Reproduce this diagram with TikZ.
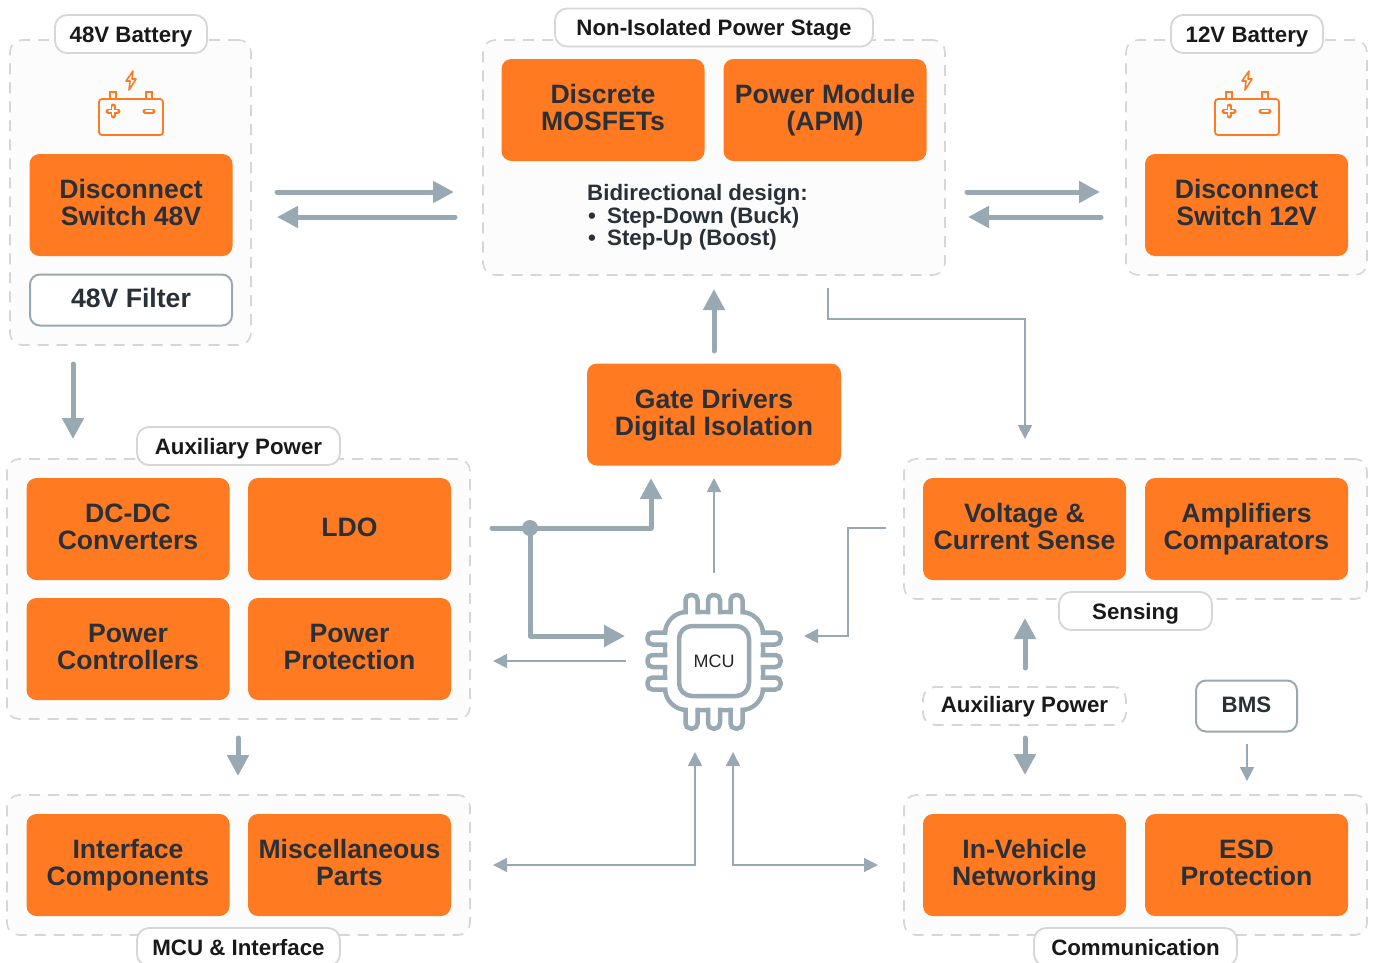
\documentclass[tikz,border=0pt]{standalone}
\usepackage{fontspec}
\setmainfont{Liberation Sans}
\usetikzlibrary{arrows.meta}
\definecolor{blockorange}{HTML}{FF7A20}
\definecolor{arrowgray}{HTML}{98A9B4}
\definecolor{dashgray}{HTML}{D6D6D6}
\definecolor{panelgray}{HTML}{FCFCFC}
\definecolor{darktext}{HTML}{2A3038}
\newcommand{\blockstrut}{\vrule height 20.4pt depth 6pt width 0pt}
\newcommand{\tagstrut}{\vrule height 18pt depth 1.4pt width 0pt}
\newcommand{\lowstrut}{\vrule height 17pt depth 3.5pt width 0pt}
\tikzstyle{block}=[rectangle,rounded corners=10pt,fill=blockorange,text=darktext,minimum width=203pt,minimum height=102pt,inner sep=0pt,align=center,font=\fontsize{26.6}{27}\selectfont\bfseries]
\tikzstyle{whiteblock}=[block,fill=white,draw=arrowgray,line width=2pt]
\tikzstyle{group}=[rectangle,rounded corners=12pt,draw=dashgray,fill=panelgray,line width=1.6pt,dash pattern=on 11pt off 8pt,inner sep=0pt]
\tikzstyle{tag}=[rectangle,rounded corners=12pt,draw=dashgray,fill=white,line width=1.8pt,inner sep=0pt,minimum height=38pt,font=\fontsize{22.3}{23}\selectfont\bfseries,text=black!90]
\tikzstyle{thickarrow}=[draw=arrowgray,line width=5pt,line cap=round,line join=round,-{Triangle[length=21pt,width=21pt]}]
\tikzstyle{thinarrow}=[draw=arrowgray,line width=1.8pt,-{Triangle[length=14pt,width=14pt]}]
\tikzstyle{bothways}=[thinarrow,{Triangle[length=14pt,width=14pt]}-{Triangle[length=14pt,width=14pt]}]
\tikzstyle{chipline}=[draw=arrowgray,line width=4.5pt]
\tikzstyle{junction}=[circle,fill=arrowgray,minimum size=16pt,inner sep=0pt]
\tikzset{batteryicon/.pic={
    \draw[blockorange,line width=1.8pt,rounded corners=3pt] (-32,-19) rectangle (32,17);
    \draw[blockorange,line width=1.8pt] (-21,-26) rectangle (-15,-19);
    \draw[blockorange,line width=1.8pt] (15,-26) rectangle (21,-19);
    \draw[blockorange,line width=5pt,line cap=round] (-23,-7) -- (-13,-7) (-18,-12) -- (-18,-2) (14,-7) -- (22,-7);
    \draw[white,line width=1.6pt,line cap=round] (-22,-7) -- (-14,-7) (-18,-11) -- (-18,-3) (15,-7) -- (21,-7);
    \draw[blockorange,line width=1.6pt,line join=round] (2,-47) -- (-5,-37) -- (-1,-37) -- (-2,-28) -- (5,-39) -- (1,-39) -- cycle;
}}

\begin{document}
\begin{tikzpicture}[x=1pt,y=-1pt]
    \useasboundingbox (0,0) rectangle (1373,962);

    % First we draw the dashed groups
    \foreach \pos/\name/\boxw/\boxh in {{(130.5,192.5)/batteryA/241/305}, {(714,157.5)/powerstage/462/235}, {(1246.5,157.5)/batteryB/241/235}, {(238.5,589)/auxgroup/463/260}, {(238.5,865)/mcugroup/463/140}, {(1135.5,529)/sensegroup/463/140}, {(1135.5,865)/commgroup/463/140}}
        \node[group,minimum width=\boxw pt,minimum height=\boxh pt] (\name) at \pos {};

    % Tags on the groups
    \foreach \pos/\name/\boxw/\txt in {{(131,34)/tagA/152/48V Battery}, {(714,27.5)/tagstage/318/Non-Isolated Power Stage}, {(1247,34)/tagB/152/12V Battery}, {(238.5,446)/tagaux/203/Auxiliary Power}, {(1135.5,611)/tagsense/153/Sensing}, {(238.5,947)/tagmcu/203/MCU \& Interface}, {(1135.5,947)/tagcomm/203/Communication}}
        \node[tag,minimum width=\boxw pt] (\name) at \pos {\tagstrut\smash{\txt}};
    \node[tag,minimum width=203pt,dash pattern=on 11pt off 8pt] (tagaux2) at (1024.5,706) {\lowstrut\smash{Auxiliary Power}};

    % Orange blocks
    \foreach \pos/\name/\txt in {{(131,205)/switchA/{Disconnect\\Switch 48V}}, {(603,110)/mosfets/{Discrete\\MOSFETs}}, {(825,110)/module/{Power Module\\(APM)}}, {(1246.5,205)/switchB/{Disconnect\\Switch 12V}}, {(128,529)/dcdc/{DC-DC\\Converters}}, {(349.5,529)/ldo/LDO}, {(128,649)/controllers/{Power\\Controllers}}, {(349.5,649)/protection/{Power\\Protection}}, {(128,865)/interface/{Interface\\Components}}, {(349.5,865)/misc/{Miscellaneous\\Parts}}, {(1024.5,529)/sense/{Voltage \&\\Current Sense}}, {(1246.5,529)/amps/{Amplifiers\\Comparators}}, {(1024.5,865)/network/{In-Vehicle\\Networking}}, {(1246.5,865)/esd/{ESD\\Protection}}}
        \node[block] (\name) at \pos {\blockstrut\txt\blockstrut};
    \node[block,minimum width=254pt] (gate) at (714,414.5) {\blockstrut Gate Drivers\\Digital Isolation\blockstrut};
    \node[whiteblock,minimum width=202pt,minimum height=51pt] (filter) at (131,300) {\blockstrut 48V Filter};
    \node[whiteblock,minimum width=101pt,minimum height=51pt,font=\fontsize{22.3}{23}\selectfont\bfseries] (bms) at (1246.5,706) {\lowstrut BMS};

    \node[anchor=west,align=left,inner sep=0pt,text=darktext,font=\fontsize{22.3}{22.5}\selectfont\bfseries] (design) at (587,217.5) {Bidirectional design:\\\makebox[20pt][l]{\hspace{1pt}•}Step-Down (Buck)\\\makebox[20pt][l]{\hspace{1pt}•}Step-Up (Boost)};

    \path (131,118) pic {batteryicon};
    \path (1247,118) pic {batteryicon};

    % MCU chip: pins, then the body over them
    \draw[chipline,rounded corners=22pt] (665,612) rectangle (763,710);
    \foreach \off in {-22.5,0,22.5} {
        \draw[chipline,fill=white,rounded corners=5pt] (714+\off-6,595) rectangle (714+\off+6,622);
        \draw[chipline,fill=white,rounded corners=5pt] (714+\off-6,700) rectangle (714+\off+6,728.5);
        \draw[chipline,fill=white,rounded corners=5pt] (647.5,661+\off-6) rectangle (675,661+\off+6);
        \draw[chipline,fill=white,rounded corners=5pt] (753,661+\off-6) rectangle (780.5,661+\off+6);
    }
    \fill[white,rounded corners=20pt] (667.3,614.3) rectangle (760.7,707.7);
    \node[rectangle,chipline,rounded corners=13pt,fill=white,minimum size=70pt,inner sep=0pt,text=black!85,font=\fontsize{18}{18}\selectfont] (mcu) at (714,661) {MCU};

    \node[junction] (split) at (530,528) {};

    % Free ends of the connectors
    \foreach \pos/\name in {{(277,192)/a1}, {(454,192)/a2}, {(455,217)/a3}, {(277,217)/a4}, {(967,192)/a5}, {(1100,192)/a6}, {(1101,217)/a7}, {(968,217)/a8}, {(714,351)/a9}, {(714,289)/a10}, {(73,364)/a11}, {(73,439)/a12}, {(238,738)/a13}, {(238,776)/a14}, {(1025,668)/a15}, {(1025,618)/a16}, {(1025,738)/a17}, {(1025,775)/a18}, {(492,528)/a19}, {(651,478)/a20}, {(625,636)/a21}, {(714,573)/b1}, {(714,478)/b2}, {(626,661)/b3}, {(493,661)/b4}, {(886,528)/b5}, {(804,636)/b6}, {(828,288)/b7}, {(1025,439)/b8}, {(493,865)/b9}, {(695,752)/b10}, {(733,752)/b11}, {(878,865)/b12}, {(1247,744)/b13}, {(1247,781)/b14}}
        \node[coordinate] (\name) at \pos {};

    % Connect them
    \foreach \source/\dest in {a1/a2, a3/a4, a5/a6, a7/a8, a9/a10, a11/a12, a13/a14, a15/a16, a17/a18}
        \path[thickarrow] (\source) -- (\dest);
    \foreach \source/\dest in {b1/b2, b3/b4, b13/b14}
        \path[thinarrow] (\source) -- (\dest);
    \path[thickarrow] (a19) -- (651,528) -- (a20);
    \path[thickarrow] (split.center) -- (530,636) -- (a21);
    \path[thinarrow] (b5) -- (848,528) -- (848,636) -- (b6);
    \path[thinarrow] (b7) -- (828,319) -- (1025,319) -- (b8);
    \path[bothways] (b9) -- (695,865) -- (b10);
    \path[bothways] (b11) -- (733,865) -- (b12);
\end{tikzpicture}
\end{document}
